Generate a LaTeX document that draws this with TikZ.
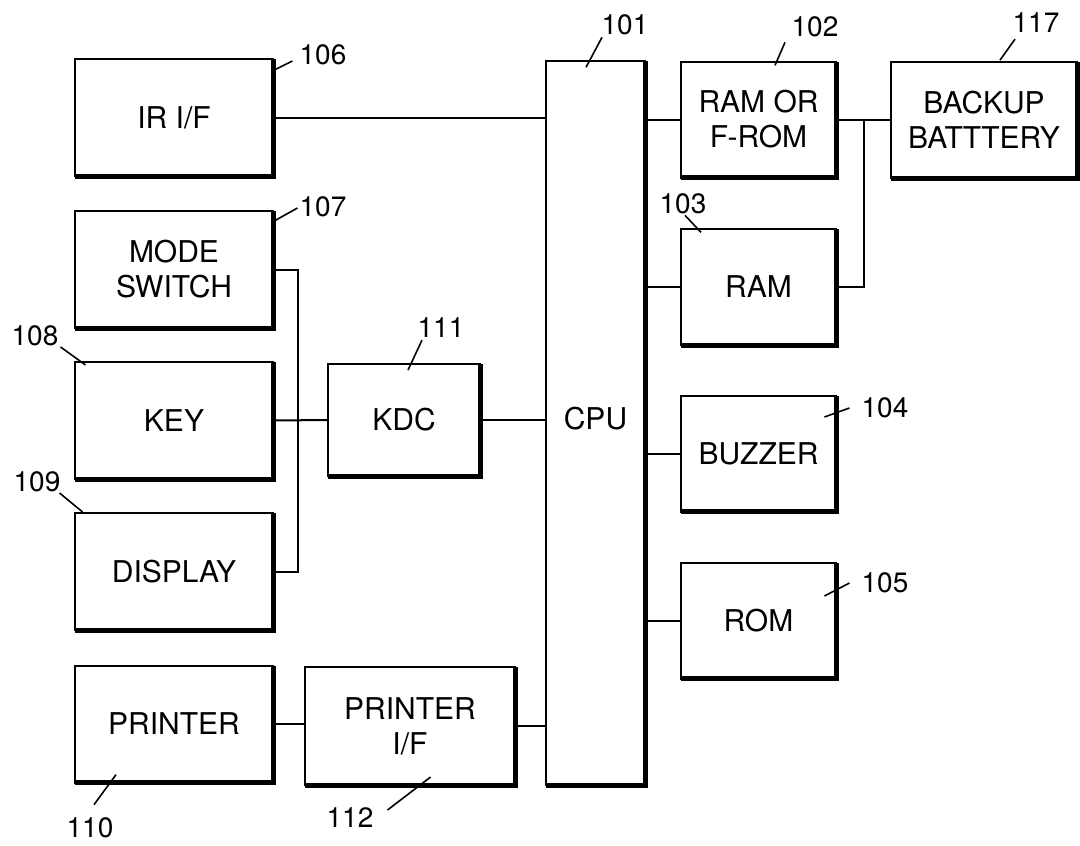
\documentclass[tikz,border=0pt]{standalone}
\usepackage{fontspec}
\setmainfont{TeX Gyre Heros}
\usetikzlibrary{calc}

\begin{document}
\begin{tikzpicture}[x=1pt, y=-1pt,
    blk/.style={draw, line width=2pt, inner sep=0pt, outer sep=0pt,
      align=center, font=\fontsize{30}{35}\selectfont},
    lbox/.style={blk, minimum width=198pt, minimum height=117pt},
    rbox/.style={blk, minimum width=155pt, minimum height=116pt},
    tag/.style={inner sep=0pt, font=\fontsize{28}{30}\selectfont},
    wire/.style={line width=2pt},
    lead/.style={line width=1.6pt},
    heavy/.style={line width=5pt}]

  % Page frame
  \useasboundingbox (0,0) rectangle (1080,846);

  % Left column
  \node[lbox] (irif) at (174,117.5) {IR I/F};
  \node[lbox] (mode) at (174,269.5) {MODE\\SWITCH};
  \node[lbox] (key)  at (174,420.5) {KEY};
  \node[lbox] (disp) at (174,571.5) {DISPLAY};
  \node[lbox] (prn)  at (174,724)   {PRINTER};

  % Controllers
  \node[blk, minimum width=152pt, minimum height=112pt] (kdc) at (404,420) {KDC};
  \node[blk, minimum width=210pt, minimum height=118pt] (prnif) at (410,726) {PRINTER\\I/F};

  % CPU bus
  \node[blk, minimum width=99pt, minimum height=724pt, text depth=10pt] (cpu) at (595.5,423) {CPU};

  % Right column
  \node[rbox] (ramf) at (758.5,119.5) {RAM OR\\F-ROM};
  \node[rbox] (ram)  at (758.5,287)   {RAM};
  \node[rbox] (buz)  at (758.5,453.5) {BUZZER};
  \node[rbox] (rom)  at (758.5,620.5) {ROM};
  \node[blk, minimum width=186pt, minimum height=116pt] (bat) at (984,120) {BACKUP\\BATTTERY};

  % Heavy right and bottom edges
  \foreach \n in {irif,mode,key,disp,prn,kdc,prnif,cpu,ramf,ram,buz,rom,bat} {
    \draw[heavy] (\n.north east) -- (\n.south east) -- (\n.south west);
  }

  % Wiring
  \draw[wire] (irif.east) -- (irif.east -| cpu.west);
  \draw[wire] (mode.east) -- ++(25,0) |- (disp.east);
  \draw[wire] (key.east) -- (kdc.west);
  \draw[wire] (kdc.east) -- (kdc.east -| cpu.west);
  \draw[wire] (prn.east) -- (prn.east -| prnif.west);
  \draw[wire] (prnif.east) -- (prnif.east -| cpu.west);
  \foreach \n in {ramf,ram,buz,rom} {
    \draw[wire] (\n.west -| cpu.east) -- (\n.west);
  }
  \coordinate (bj) at ($(ramf.east)!0.5!(ramf.east -| bat.west)$);
  \draw[wire] (ramf.east) -- (ramf.east -| bat.west);
  \draw[wire] (ram.east) -| (bj);

  % Reference numerals
  \node[tag] (t101) at (625,25)   {101};
  \node[tag] (t102) at (815,27)   {102};
  \node[tag] (t103) at (683,204)  {103};
  \node[tag] (t104) at (885,408)  {104};
  \node[tag] (t105) at (885,583)  {105};
  \node[tag] (t106) at (323,55)   {106};
  \node[tag] (t107) at (323,207)  {107};
  \node[tag] (t108) at (35,336)   {108};
  \node[tag] (t109) at (37,482)   {109};
  \node[tag] (t110) at (90,828)   {110};
  \node[tag] (t111) at (441,328)  {111};
  \node[tag] (t112) at (350,818)  {112};
  \node[tag] (t117) at (1036,23)  {117};

  % Leader lines
  \draw[lead] (t101.south) ++(-23,2) -- ++(-16,30);
  \draw[lead] (t102.south) ++(-30,5) -- ++(-10,23);
  \draw[lead] (t103.south) ++(2,1) -- ++(16,17);
  \draw[lead] (t104.west) ++(-12,0) -- ++(-25,9);
  \draw[lead] (t105.west) ++(-12,0) -- ++(-25,13);
  \draw[lead] (t106.west) ++(-7,6) -- ++(-18,9);
  \draw[lead] (t107.west) ++(-2,1) -- ++(-25,14);
  \draw[lead] (t108.east) ++(2,11) -- ++(25,18);
  \draw[lead] (t109.east) ++(-1,11) -- ++(23,19);
  \draw[lead] (t110.north) ++(4,-13) -- ++(22,-30);
  \draw[lead] (t111.south) ++(-19,2) -- ++(-14,30);
  \draw[lead] (t112.east) ++(14,-8) -- ++(43,-33);
  \draw[lead] (t117.south) ++(-21,6) -- ++(-15,21);

\end{tikzpicture}
\end{document}
